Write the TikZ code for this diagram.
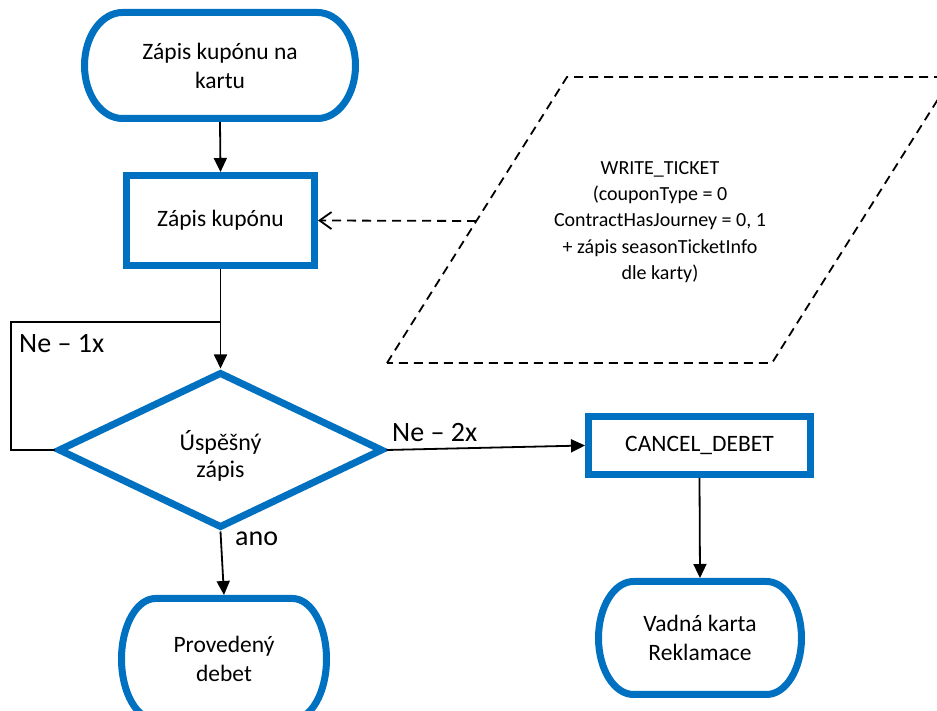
\documentclass[tikz,border=0pt]{standalone}
\usepackage{fontspec}
\setmainfont{Carlito}
\usetikzlibrary{arrows.meta,calc,shapes.geometric}
\definecolor{myblue}{RGB}{0,112,192}
\newcommand\fMain{\fontsize{23.5}{29}\selectfont}
\newcommand\fDec{\fontsize{24}{27}\selectfont}
\newcommand\fData{\fontsize{20}{26.3}\selectfont}
\newcommand\fLbl{\fontsize{28}{32}\selectfont}
\newcommand\drawstadium[4]{%
  \draw[draw=myblue, line width=7pt]
    ($(#1.center)+(-#2+#4,#3)$) -- ($(#1.center)+(#2-#4,#3)$)
    arc[start angle=90, end angle=-90, x radius=#4, y radius=#3]
    -- ($(#1.center)+(-#2+#4,-#3)$)
    arc[start angle=270, end angle=90, x radius=#4, y radius=#3] -- cycle;}
\tikzset{
  procbox/.style={rectangle, draw=myblue, line width=7pt, inner sep=0pt, align=center, font=\fMain},
  termnode/.style={rectangle, draw=none, outer sep=3.5pt, inner sep=0pt, align=center, font=\fMain},
  decnode/.style={diamond, draw=myblue, line width=7pt, inner sep=0pt},
  dectext/.style={align=center, font=\fDec, inner sep=0pt},
  flow/.style={draw=black, line width=1.8pt, -{Triangle[length=14pt,width=13pt]}},
  plainline/.style={draw=black, line width=1.8pt},
  dataflow/.style={draw=black, line width=1.8pt, dash pattern=on 9pt off 6pt, -{Straight Barb[length=12pt,width=17pt]}},
  databox/.style={draw=black, line width=1.8pt, dash pattern=on 9pt off 6pt, line join=miter},
  lbl/.style={font=\fLbl, anchor=base west, inner sep=0pt}
}
\begin{document}
\begin{tikzpicture}[x=1pt,y=1pt]
\useasboundingbox (0,0) rectangle (937,711);
\fill[white] (0,0) rectangle (937,711);
\clip (0,0) rectangle (937,711);

% data parallelogram
\draw[databox] (387,348) -- (567,634) -- (952,634) -- (772,348) -- cycle;
\node[font=\fData, align=center, inner sep=0pt] (wt) at (660,489)
  {WRITE\_TICKET\\(couponType = 0\\ContractHasJourney = 0, 1\\+ zápis seasonTicketInfo\\dle karty)};
\coordinate (pl) at (476,490);

% nodes
\node[termnode, minimum width=271pt, minimum height=106pt] (start) at (220,645.5) {Zápis kupónu na\\kartu};
\drawstadium{start}{135.5}{53}{38}
\node[procbox, minimum width=188pt, minimum height=90pt] (zk) at (220.5,490.5) {Zápis kupónu};
\node[decnode, minimum width=325pt, minimum height=156pt] (dec) at (220.5,261) {};
\node[dectext] (dect) at (220.5,255) {Úspěšný\\zápis};
\node[procbox, minimum width=222pt, minimum height=58pt] (cancel) at (699.5,265.5) {CANCEL\_DEBET};
\node[termnode, minimum width=203pt, minimum height=113pt] (vadna) at (700,73) {Vadná karta\\Reklamace};
\drawstadium{vadna}{101.5}{56.5}{35}
\node[termnode, minimum width=205pt, minimum height=121pt] (prov) at (224,52) {Provedený\\debet};
\drawstadium{prov}{102.5}{60.5}{34}

% connectors
\coordinate (lc) at (11,261);
\coordinate (jn) at (220.5,389);
\draw[flow] (start.south) -- (zk.north);
\draw[flow] (zk.south) -- (dec.north);
\draw[plainline] (dec.west) -- (lc) |- (jn);
\draw[flow] (dec.east) -- (cancel.west);
\draw[flow] (cancel.south) -- (vadna.north);
\draw[flow] (dec.south) -- (prov.north);
\draw[dataflow] (pl) -- (zk.east);

% labels
\node[lbl] (ne1) at (19,358) {Ne – 1x};
\node[lbl] (ne2) at (392,269) {Ne – 2x};
\node[lbl] (ano) at (235,165) {ano};
\end{tikzpicture}
\end{document}
